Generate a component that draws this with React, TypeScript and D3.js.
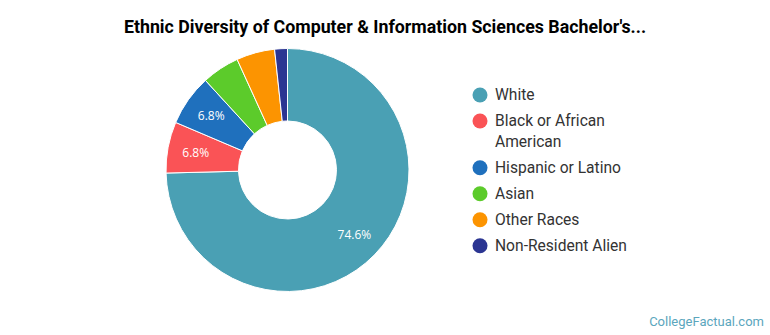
import React from "react";
import * as d3 from "d3";

const categories = ["White", "Black or African American", "Hispanic or Latino", "Asian", "Other Races", "Non-Resident Alien"];
const legendLines = [["White"], ["Black or African", "American"], ["Hispanic or Latino"], ["Asian"], ["Other Races"], ["Non-Resident Alien"]];
const values = [74.6, 6.8, 6.8, 5.0, 5.1, 1.7];
const colors = ["#4aa0b4", "#fa5356", "#1f70bd", "#5ccb2b", "#fc9401", "#2b3592"];
const title = "Ethnic Diversity of Computer & Information Sciences Bachelor's...";
const credit = "CollegeFactual.com";

export default function App() {
  const W = 770, H = 335;
  const cx = 287.5, cy = 170, rOuter = 121.5, rInner = 49, rLabel = 93.5;
  const data = categories.map((c, i) => ({ c, v: values[i], color: colors[i] }));
  const pie = d3.pie<any>().value((d: any) => d.v).sort(null);
  const arcs = pie(data);
  const arc = d3.arc<any>().innerRadius(rInner).outerRadius(rOuter);
  const labelArc = d3.arc<any>().innerRadius(rLabel).outerRadius(rLabel);

  let y = 95;
  const legendItems = legendLines.map((lines, i) => {
    const item = { lines, y, color: colors[i] };
    y += 26 + (lines.length - 1) * 20.7;
    return item;
  });

  return (
    <svg width={W} height={H} style={{ position: "absolute", left: 0, top: 0, background: "#fff" }}>
      <text x={385} y={33} textAnchor="middle" fontFamily="Roboto" fontWeight="bold" fontSize={17.8} fill="#000">{title}</text>
      <g transform={`translate(${cx},${cy})`}>
        {arcs.map((a, i) => (
          <path key={i} d={arc(a) as string} fill={a.data.color} stroke="#fff" strokeWidth={1} strokeLinejoin="round" />
        ))}
        {arcs.map((a, i) => {
          if (a.data.v < 6) return null;
          const [lx, ly] = labelArc.centroid(a);
          return (
            <text key={i} x={lx} y={ly} dy="0.35em" textAnchor="middle" fontFamily="Open Sans" fontSize={12} fill="#fff">
              {a.data.v.toFixed(1)}%
            </text>
          );
        })}
      </g>
      <g>
        {legendItems.map((it, i) => (
          <g key={i}>
            <circle cx={480} cy={it.y} r={7.5} fill={it.color} />
            {it.lines.map((ln, j) => (
              <text key={j} x={495} y={it.y + j * 20.7} dy="0.35em" fontFamily="Roboto" fontSize={15.6} fill="#333">{ln}</text>
            ))}
          </g>
        ))}
      </g>
      <text x={764} y={326} textAnchor="end" fontFamily="Roboto" fontSize={13} fill="#5ba6bd">{credit}</text>
    </svg>
  );
}
